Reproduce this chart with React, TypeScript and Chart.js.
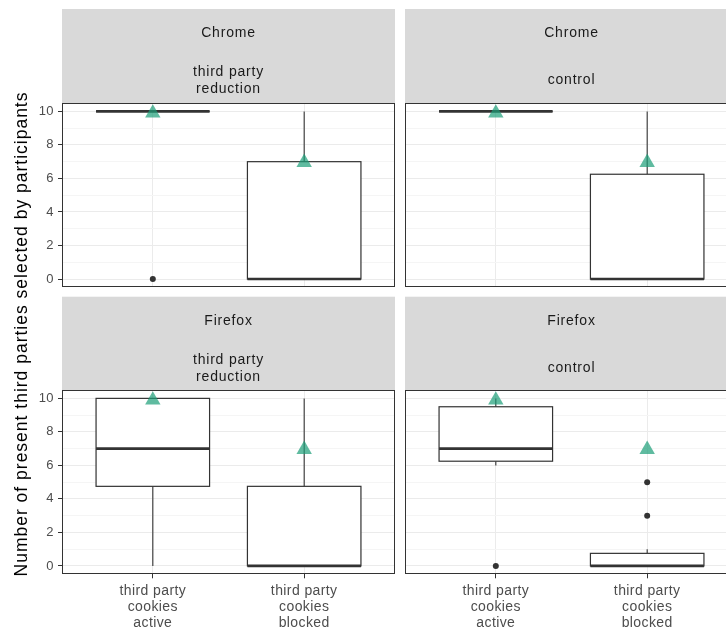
import React, { useEffect, useRef } from 'react';
import { Chart, registerables } from 'chart.js';

Chart.register(...registerables);

// ---- data -------------------------------------------------------------
const panelBrowsers = ['Chrome', 'Chrome', 'Firefox', 'Firefox'];
const panelConditions = [['third party', 'reduction'], ['control'], ['third party', 'reduction'], ['control']];
const groupPositions = [1, 2];
const groupLabels = [
  ['third party', 'cookies', 'active'],
  ['third party', 'cookies', 'blocked'],
];
const yTickValues = [0, 2, 4, 6, 8, 10];
const yGridValues = [0, 1, 2, 3, 4, 5, 6, 7, 8, 9, 10];

// per panel: [cookies active, cookies blocked]
const whiskerLow = [[10, 0], [10, 0], [0, 0], [6, 0]];
const lowerQuartile = [[10, 0], [10, 0], [4.75, 0], [6.25, 0]];
const medians = [[10, 0], [10, 0], [7, 0], [7, 0]];
const upperQuartile = [[10, 7], [10, 6.25], [10, 4.75], [9.5, 0.75]];
const whiskerHigh = [[10, 10], [10, 10], [10, 10], [10, 1]];
const outliers = [[[0], []], [[], []], [[], []], [[0], [3, 5]]];
const means = [[9.9, 6.95], [9.9, 6.95], [9.9, 6.95], [9.9, 6.95]];

const yTitle = 'Number of present third parties selected by participants';

// ---- styling ----------------------------------------------------------
const FONT = '"Liberation Sans", Arial, Helvetica, sans-serif';
const INK = '#333333';
const GRID_MAJOR = '#ebebeb';
const GRID_MINOR = '#f5f5f5';
const STRIP_FILL = '#d9d9d9';
const MEAN_FILL = 'rgba(27, 158, 119, 0.7)';
const BOX_WIDTH = 0.75;

// canvas placement per facet column / row
const colCanvas = [
  { left: 0, width: 400, padLeft: 0, padRight: 5, axisWidth: 62 },
  { left: 400, width: 345, padLeft: 5, padRight: 7, axisWidth: 0 },
];
const rowCanvas = [
  { top: 0, height: 290, padTop: 103, padBottom: 2.6, axisHeight: 0, stripTop: 9 },
  { top: 290, height: 343, padTop: 100, padBottom: 0, axisHeight: 58.7, stripTop: 6.7 },
];

const boxPlugin = {
  id: 'boxes',
  beforeDatasetsDraw(chart: any, _args: any, opts: any) {
    const p = opts.panel as number;
    const { ctx } = chart;
    const x = chart.scales.x;
    const y = chart.scales.y;
    const half = Math.abs(x.getPixelForValue(BOX_WIDTH / 2) - x.getPixelForValue(0));
    ctx.save();
    ctx.strokeStyle = INK;
    ctx.lineCap = 'butt';
    groupPositions.forEach((g, j) => {
      const cx = x.getPixelForValue(g);
      const yLo = y.getPixelForValue(whiskerLow[p][j]);
      const yQ1 = y.getPixelForValue(lowerQuartile[p][j]);
      const yMed = y.getPixelForValue(medians[p][j]);
      const yQ3 = y.getPixelForValue(upperQuartile[p][j]);
      const yHi = y.getPixelForValue(whiskerHigh[p][j]);
      // whiskers
      ctx.lineWidth = 1.1;
      ctx.beginPath();
      ctx.moveTo(cx, yQ3);
      ctx.lineTo(cx, yHi);
      ctx.moveTo(cx, yQ1);
      ctx.lineTo(cx, yLo);
      ctx.stroke();
      // box
      ctx.fillStyle = '#ffffff';
      ctx.fillRect(cx - half, yQ3, half * 2, yQ1 - yQ3);
      ctx.lineWidth = 1.2;
      ctx.strokeRect(cx - half, yQ3, half * 2, yQ1 - yQ3);
      // median
      ctx.lineWidth = 2.6;
      ctx.beginPath();
      ctx.moveTo(cx - half, yMed);
      ctx.lineTo(cx + half, yMed);
      ctx.stroke();
    });
    ctx.restore();
  },
};

const framePlugin = {
  id: 'frame',
  beforeDraw(chart: any, _args: any, opts: any) {
    const p = opts.panel as number;
    const { ctx, chartArea } = chart;
    const stripTop = opts.stripTop as number;
    ctx.save();
    ctx.fillStyle = STRIP_FILL;
    ctx.fillRect(chartArea.left, stripTop, chartArea.right - chartArea.left, chartArea.top - stripTop);
    ctx.fillStyle = '#1a1a1a';
    ctx.font = `14px ${FONT}`;
    (ctx as any).letterSpacing = '0.8px';
    ctx.textAlign = 'center';
    ctx.textBaseline = 'middle';
    const cx = (chartArea.left + chartArea.right) / 2;
    ctx.fillText(panelBrowsers[p], cx, stripTop + 24.5);
    const lines = panelConditions[p];
    const mid = stripTop + 71.5;
    lines.forEach((line, i) => {
      ctx.fillText(line, cx, mid + (i - (lines.length - 1) / 2) * 17);
    });
    ctx.restore();
    // spacing used by the axis labels drawn next
    (ctx as any).letterSpacing = '0.4px';
  },
  afterDraw(chart: any) {
    const { ctx, chartArea } = chart;
    ctx.save();
    (ctx as any).letterSpacing = '0px';
    ctx.strokeStyle = INK;
    ctx.lineWidth = 1;
    const l = Math.round(chartArea.left) + 0.5;
    const t = Math.round(chartArea.top) + 0.5;
    const r = Math.round(chartArea.right) - 0.5;
    const b = Math.round(chartArea.bottom) - 0.5;
    ctx.strokeRect(l, t, r - l, b - t);
    ctx.restore();
  },
};

function buildConfig(panel: number): any {
  const col = colCanvas[panel % 2];
  const row = rowCanvas[Math.floor(panel / 2)];
  const showY = col.axisWidth > 0;
  const showX = row.axisHeight > 0;

  const outlierPoints = groupPositions.flatMap((g, j) => outliers[panel][j].map((v) => ({ x: g, y: v })));
  const meanPoints = groupPositions.map((g, j) => ({ x: g, y: means[panel][j] }));

  return {
    type: 'scatter',
    data: {
      datasets: [
        {
          label: 'outliers',
          data: outlierPoints,
          pointRadius: 3,
          pointBackgroundColor: INK,
          pointBorderWidth: 0,
          pointStyle: 'circle',
        },
        {
          label: 'mean',
          data: meanPoints,
          pointRadius: 8.9,
          pointBackgroundColor: MEAN_FILL,
          pointBorderWidth: 0,
          pointStyle: 'triangle',
        },
      ],
    },
    options: {
      responsive: false,
      animation: false,
      events: [],
      devicePixelRatio: 1,
      layout: {
        autoPadding: false,
        padding: { left: col.padLeft, right: col.padRight, top: row.padTop, bottom: row.padBottom },
      },
      plugins: {
        legend: { display: false },
        tooltip: { enabled: false },
        title: { display: false },
        boxes: { panel },
        frame: { panel, stripTop: row.stripTop },
      },
      scales: {
        x: {
          type: 'linear',
          min: 0.4,
          max: 2.6,
          afterBuildTicks: (s: any) => {
            s.ticks = groupPositions.map((v) => ({ value: v }));
          },
          afterFit: (s: any) => {
            s.height = row.axisHeight;
            s.paddingLeft = 0;
            s.paddingRight = 0;
            s.paddingTop = 0;
            s.paddingBottom = 0;
          },
          border: { display: false },
          grid: {
            color: GRID_MAJOR,
            lineWidth: 1,
            drawTicks: showX,
            tickLength: 4,
            tickColor: INK,
            tickWidth: 1,
          },
          ticks: {
            display: showX,
            autoSkip: false,
            maxRotation: 0,
            minRotation: 0,
            padding: 4.5,
            color: '#4d4d4d',
            font: { family: FONT, size: 14, lineHeight: 16 / 14 },
            callback: (v: number) => groupLabels[groupPositions.indexOf(v)] ?? '',
          },
        },
        y: {
          type: 'linear',
          min: -0.5,
          max: 10.5,
          afterBuildTicks: (s: any) => {
            s.ticks = yGridValues.map((v) => ({ value: v }));
          },
          afterFit: (s: any) => {
            s.width = col.axisWidth;
            s.paddingLeft = 0;
            s.paddingRight = 0;
            s.paddingTop = 0;
            s.paddingBottom = 0;
          },
          border: { display: false },
          grid: {
            color: (c: any) => (c.tick && c.tick.value % 2 ? GRID_MINOR : GRID_MAJOR),
            lineWidth: 1,
            drawTicks: showY,
            tickLength: 4,
            tickColor: (c: any) => (c.tick && c.tick.value % 2 ? 'rgba(0,0,0,0)' : INK),
            tickWidth: 1,
          },
          ticks: {
            display: showY,
            autoSkip: false,
            padding: 4,
            color: '#4d4d4d',
            font: { family: FONT, size: 13 },
            callback: (v: number) => (yTickValues.includes(v) ? String(v) : ''),
          },
        },
      },
    },
    plugins: [boxPlugin, framePlugin],
  };
}

function FacetPanel({ panel }: { panel: number }) {
  const ref = useRef<HTMLCanvasElement>(null);
  const col = colCanvas[panel % 2];
  const row = rowCanvas[Math.floor(panel / 2)];
  useEffect(() => {
    if (!ref.current) return;
    const chart = new Chart(ref.current, buildConfig(panel));
    return () => chart.destroy();
  }, [panel]);
  return (
    <canvas
      ref={ref}
      width={col.width}
      height={row.height}
      style={{ position: 'absolute', left: col.left, top: row.top, width: col.width, height: row.height }}
    />
  );
}

export default function App() {
  return (
    <div
      style={{
        position: 'fixed',
        left: 0,
        top: 0,
        width: 726,
        height: 633,
        overflow: 'hidden',
        background: '#ffffff',
      }}
    >
      {[0, 1, 2, 3].map((p) => (
        <FacetPanel key={p} panel={p} />
      ))}
      <div
        style={{
          position: 'absolute',
          left: 21 - 300,
          top: 334 - 11,
          width: 600,
          height: 22,
          lineHeight: '22px',
          textAlign: 'center',
          transform: 'rotate(-90deg)',
          fontFamily: FONT,
          fontSize: 17.5,
          letterSpacing: '1px',
          color: '#000000',
          whiteSpace: 'nowrap',
        }}
      >
        {yTitle}
      </div>
    </div>
  );
}
